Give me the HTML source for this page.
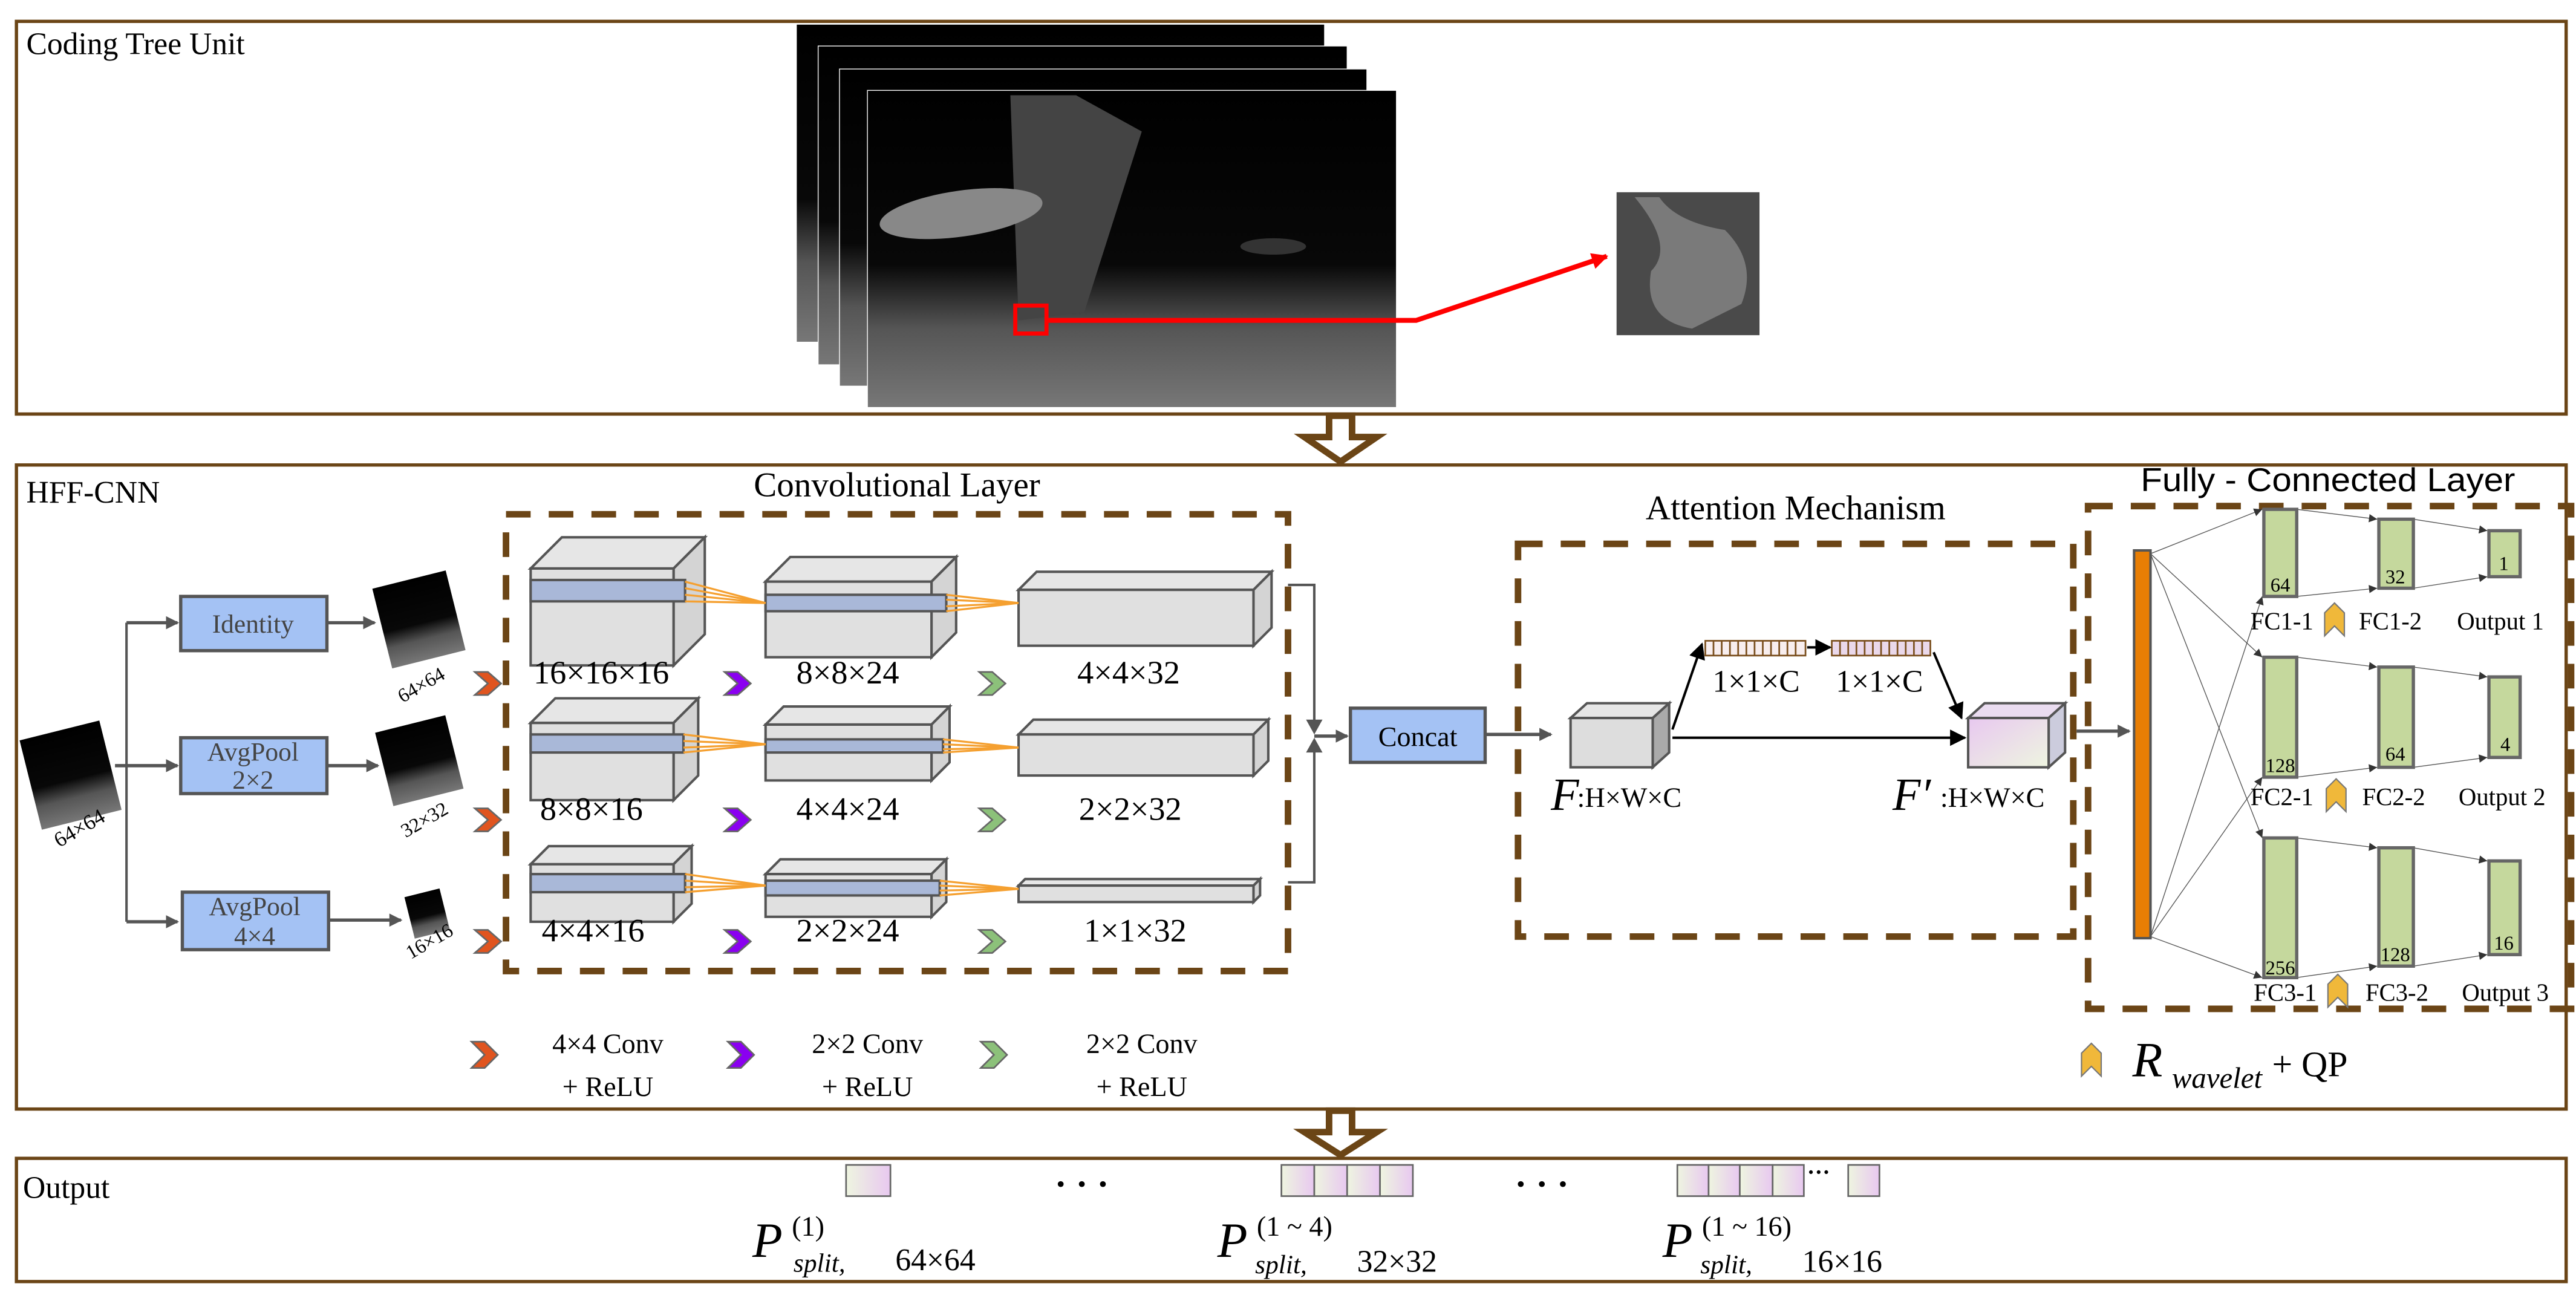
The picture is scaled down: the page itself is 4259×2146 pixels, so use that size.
<!DOCTYPE html>
<html><head><meta charset="utf-8"><style>html,body{margin:0;padding:0;background:#fff}svg{display:block}</style></head><body>
<svg width="4259" height="2146" viewBox="0 0 1568 790" preserveAspectRatio="none" xmlns="http://www.w3.org/2000/svg" font-family="Liberation Serif, serif">
<defs>
<linearGradient id="gimg" x1="0" y1="0" x2="0" y2="1"><stop offset="0" stop-color="#000"/><stop offset="0.55" stop-color="#080808"/><stop offset="0.75" stop-color="#555"/><stop offset="1" stop-color="#777"/></linearGradient>
<linearGradient id="pink" x1="0" y1="0" x2="1" y2="1"><stop offset="0" stop-color="#e8c8f0"/><stop offset="1" stop-color="#eef5e0"/></linearGradient>
<linearGradient id="cell" x1="0" y1="0" x2="1" y2="0"><stop offset="0" stop-color="#eef5e0"/><stop offset="1" stop-color="#e8c8f0"/></linearGradient>
<marker id="ah" markerWidth="8" markerHeight="8" refX="7" refY="4" orient="auto" markerUnits="userSpaceOnUse"><path d="M0,0 L8,4 L0,8 z" fill="#555"/></marker>
<marker id="ahb" markerWidth="10" markerHeight="10" refX="9" refY="5" orient="auto" markerUnits="userSpaceOnUse"><path d="M0,0 L10,5 L0,10 z" fill="#000"/></marker>
<marker id="ahs" markerWidth="5" markerHeight="5" refX="5" refY="2.5" orient="auto" markerUnits="userSpaceOnUse"><path d="M0,0 L5,2.5 L0,5 z" fill="#333"/></marker>
<marker id="ahr" markerWidth="10" markerHeight="10" refX="9" refY="5" orient="auto" markerUnits="userSpaceOnUse"><path d="M0,0 L10,5 L0,10 z" fill="#f00"/></marker>
</defs>

<!-- Panels -->
<g fill="none" stroke="#6b4516" stroke-width="2">
<rect x="10" y="13" width="1552" height="239"/>
<rect x="10" y="283" width="1552" height="392"/>
<rect x="10" y="705" width="1552" height="75"/>
</g>
<text x="16" y="33" font-size="19">Coding Tree Unit</text>
<text x="16" y="306" font-size="19">HFF-CNN</text>
<text x="14" y="729" font-size="19">Output</text>

<!-- Image stack -->
<rect x="485" y="15" width="321" height="193" fill="url(#gimg)"/>
<rect x="498" y="28" width="322" height="194" fill="url(#gimg)" stroke="#fff" stroke-width="0.5"/>
<rect x="511" y="42" width="321" height="193" fill="url(#gimg)" stroke="#fff" stroke-width="0.5"/>
<rect x="528" y="55" width="322" height="193" fill="url(#gimg)" stroke="#fff" stroke-width="0.5"/>
<polygon points="615,58 655,58 695,80 660,190 620,195" fill="#444"/>
<ellipse cx="585" cy="130" rx="50" ry="14" fill="#888" transform="rotate(-8 585 130)"/>
<ellipse cx="775" cy="150" rx="20" ry="5" fill="#333"/>
<rect x="618" y="186" width="19" height="17" fill="none" stroke="#f00" stroke-width="2.5"/>
<polyline points="637,195 862,195 978,156" fill="none" stroke="#f00" stroke-width="3" marker-end="url(#ahr)"/>
<rect x="984" y="117" width="87" height="87" fill="#4a4a4a"/>
<path d="M995,120 Q1020,150 1005,165 Q1000,195 1030,200 L1060,185 Q1070,160 1050,140 Q1020,135 1010,120 z" fill="#7a7a7a"/>

<!-- big hollow arrows -->
<g fill="#fff" stroke="#6b4516" stroke-width="4">
<path d="M809,253 L823,253 L823,266 L838,266 L816,281 L794,266 L809,266 z"/>
<path d="M809,676 L823,676 L823,689 L838,689 L816,703 L794,689 L809,689 z"/>
</g>

<!-- titles -->
<text x="546" y="302" font-size="21" text-anchor="middle">Convolutional Layer</text>
<text x="1093" y="316" font-size="21" text-anchor="middle">Attention Mechanism</text>
<text x="1417" y="299" font-size="20" text-anchor="middle" font-family="Liberation Sans, sans-serif" textLength="228" lengthAdjust="spacingAndGlyphs">Fully - Connected Layer</text>

<!-- dashed boxes -->
<g fill="none" stroke="#6b4516" stroke-width="4" stroke-dasharray="15 11">
<rect x="308" y="313" width="476" height="278"/>
<rect x="924" y="331" width="338" height="239"/>
<rect x="1271" y="308" width="294" height="306"/>
</g>

<!-- Input image -->
<g transform="rotate(-14 42 472)"><rect x="18" y="444" width="50" height="56" fill="url(#gimg)"/></g>
<text x="0" y="0" font-size="13" transform="translate(36 516) rotate(-30)">64×64</text>
<g stroke="#555" stroke-width="1.5" fill="none">
<polyline points="77,379 77,561"/>
<line x1="70" y1="466" x2="108" y2="466" stroke-width="2" marker-end="url(#ah)"/>
<line x1="77" y1="379" x2="108" y2="379" stroke-width="2" marker-end="url(#ah)"/>
<line x1="77" y1="561" x2="108" y2="561" stroke-width="2" marker-end="url(#ah)"/>
<line x1="199" y1="379" x2="228" y2="379" stroke-width="2" marker-end="url(#ah)"/>
<line x1="199" y1="466" x2="230" y2="466" stroke-width="2" marker-end="url(#ah)"/>
<line x1="200" y1="560" x2="244" y2="560" stroke-width="2" marker-end="url(#ah)"/>
</g>
<g fill="#a4c2f4" stroke="#555" stroke-width="2">
<rect x="110" y="363" width="89" height="33"/>
<rect x="110" y="449" width="89" height="34"/>
<rect x="111" y="543" width="89" height="35"/>
</g>
<g font-size="16" fill="#444" text-anchor="middle">
<text x="154" y="385">Identity</text>
<text x="154" y="463">AvgPool</text><text x="154" y="480">2×2</text>
<text x="155" y="557">AvgPool</text><text x="155" y="575">4×4</text>
</g>
<g transform="rotate(-14 255 377)"><rect x="232" y="352" width="46" height="50" fill="url(#gimg)"/></g>
<g transform="rotate(-14 255 462)"><rect x="233" y="440" width="44" height="46" fill="url(#gimg)"/></g>
<g transform="rotate(-14 260 556)"><rect x="249" y="543" width="22" height="26" fill="url(#gimg)"/></g>
<g font-size="12">
<text transform="translate(245 428) rotate(-30)">64×64</text>
<text transform="translate(247 510) rotate(-30)">32×32</text>
<text transform="translate(250 584) rotate(-30)">16×16</text>
</g>

<!-- chevrons -->
<g stroke="#666" stroke-width="1">
<polygon points="289,409 297,409 305,416 297,423 289,423 297,416" fill="#e0541f"/>
<polygon points="289,492 297,492 305,499 297,506 289,506 297,499" fill="#e0541f"/>
<polygon points="289,566 297,566 305,573 297,580 289,580 297,573" fill="#e0541f"/>
<polygon points="441,409 449,409 457,416 449,423 441,423 449,416" fill="#8a00f0"/>
<polygon points="441,492 449,492 457,499 449,506 441,506 449,499" fill="#8a00f0"/>
<polygon points="441,566 449,566 457,573 449,580 441,580 449,573" fill="#8a00f0"/>
<polygon points="596,409 604,409 612,416 604,423 596,423 604,416" fill="#8cc17a"/>
<polygon points="596,492 604,492 612,499 604,506 596,506 604,499" fill="#8cc17a"/>
<polygon points="596,566 604,566 612,573 604,580 596,580 604,573" fill="#8cc17a"/>
<polygon points="287,634 295,634 303,642 295,650 287,650 295,642" fill="#e0541f"/>
<polygon points="443,634 451,634 459,642 451,650 443,650 451,642" fill="#8a00f0"/>
<polygon points="597,634 605,634 613,642 605,650 597,650 605,642" fill="#8cc17a"/>
</g>
<g font-size="17" text-anchor="middle">
<text x="370" y="641">4×4 Conv</text><text x="370" y="667">+ ReLU</text>
<text x="528" y="641">2×2 Conv</text><text x="528" y="667">+ ReLU</text>
<text x="695" y="641">2×2 Conv</text><text x="695" y="667">+ ReLU</text>
</g>

<!-- cubes -->
<g stroke="#555" stroke-width="1.5">
<!-- row1 -->
<polygon points="323,346 342,327 429,327 410,346" fill="#e6e6e6"/><polygon points="410,346 429,327 429,386 410,405" fill="#d4d4d4"/><rect x="323" y="346" width="87" height="59" fill="#e0e0e0"/>
<rect x="323" y="353" width="94" height="13" fill="#a9b8d8"/>
<polygon points="466,354 481,339 582,339 567,354" fill="#e6e6e6"/><polygon points="567,354 582,339 582,385 567,400" fill="#d4d4d4"/><rect x="466" y="354" width="101" height="46" fill="#e0e0e0"/>
<rect x="466" y="362" width="110" height="10" fill="#a9b8d8"/>
<polygon points="620,359 631,348 774,348 763,359" fill="#e6e6e6"/><polygon points="763,359 774,348 774,382 763,393" fill="#d4d4d4"/><rect x="620" y="359" width="143" height="34" fill="#e0e0e0"/>
<!-- row2 -->
<polygon points="323,440 338,425 425,425 410,440" fill="#e6e6e6"/><polygon points="410,440 425,425 425,472 410,487" fill="#d4d4d4"/><rect x="323" y="440" width="87" height="47" fill="#e0e0e0"/>
<rect x="323" y="447" width="93" height="11" fill="#a9b8d8"/>
<polygon points="466,441 477,430 578,430 567,441" fill="#e6e6e6"/><polygon points="567,441 578,430 578,464 567,475" fill="#d4d4d4"/><rect x="466" y="441" width="101" height="34" fill="#e0e0e0"/>
<rect x="466" y="450" width="108" height="8" fill="#a9b8d8"/>
<polygon points="620,447 629,438 772,438 763,447" fill="#e6e6e6"/><polygon points="763,447 772,438 772,463 763,472" fill="#d4d4d4"/><rect x="620" y="447" width="143" height="25" fill="#e0e0e0"/>
<!-- row3 -->
<polygon points="323,526 334,515 421,515 410,526" fill="#e6e6e6"/><polygon points="410,526 421,515 421,550 410,561" fill="#d4d4d4"/><rect x="323" y="526" width="87" height="35" fill="#e0e0e0"/>
<rect x="323" y="532" width="94" height="11" fill="#a9b8d8"/>
<polygon points="466,532 475,523 576,523 567,532" fill="#e6e6e6"/><polygon points="567,532 576,523 576,549 567,558" fill="#d4d4d4"/><rect x="466" y="532" width="101" height="26" fill="#e0e0e0"/>
<rect x="466" y="536" width="106" height="9" fill="#a9b8d8"/>
<polygon points="620,539 624,535 767,535 763,539" fill="#e6e6e6"/><polygon points="763,539 767,535 767,545 763,549" fill="#d4d4d4"/><rect x="620" y="539" width="143" height="10" fill="#e0e0e0"/>
</g>
<g stroke="#f5a030" stroke-width="1.2">
<line x1="417" y1="354" x2="466" y2="367"/><line x1="417" y1="358" x2="466" y2="367"/><line x1="417" y1="362" x2="466" y2="367"/><line x1="417" y1="366" x2="466" y2="367"/>
<line x1="576" y1="362" x2="620" y2="367"/><line x1="576" y1="365" x2="620" y2="367"/><line x1="576" y1="369" x2="620" y2="367"/><line x1="576" y1="372" x2="620" y2="367"/>
<line x1="416" y1="447" x2="466" y2="453"/><line x1="416" y1="451" x2="466" y2="453"/><line x1="416" y1="455" x2="466" y2="453"/><line x1="416" y1="458" x2="466" y2="453"/>
<line x1="574" y1="450" x2="620" y2="455"/><line x1="574" y1="453" x2="620" y2="455"/><line x1="574" y1="456" x2="620" y2="455"/><line x1="574" y1="458" x2="620" y2="455"/>
<line x1="417" y1="532" x2="466" y2="539"/><line x1="417" y1="536" x2="466" y2="539"/><line x1="417" y1="540" x2="466" y2="539"/><line x1="417" y1="543" x2="466" y2="539"/>
<line x1="572" y1="536" x2="620" y2="541"/><line x1="572" y1="539" x2="620" y2="541"/><line x1="572" y1="542" x2="620" y2="541"/><line x1="572" y1="545" x2="620" y2="541"/>
</g>
<g font-size="20" text-anchor="middle">
<text x="366" y="416">16×16×16</text><text x="516" y="416">8×8×24</text><text x="687" y="416">4×4×32</text>
<text x="360" y="499">8×8×16</text><text x="516" y="499">4×4×24</text><text x="688" y="499">2×2×32</text>
<text x="361" y="573">4×4×16</text><text x="516" y="573">2×2×24</text><text x="691" y="573">1×1×32</text>
</g>
<!-- bracket -->
<g stroke="#555" stroke-width="1.5" fill="none">
<polyline points="784,356 800,356 800,441"/>
<polyline points="784,537 800,537 800,455"/>
</g>
<polygon points="795,438 805,438 800,447" fill="#555"/>
<polygon points="795,458 805,458 800,449" fill="#555"/>
<line x1="800" y1="448" x2="820" y2="448" stroke="#555" stroke-width="2" marker-end="url(#ah)"/>
<rect x="822" y="431" width="82" height="33" fill="#a4c2f4" stroke="#555" stroke-width="2"/>
<text x="863" y="454" font-size="17" text-anchor="middle">Concat</text>
<line x1="904" y1="447" x2="944" y2="447" stroke="#555" stroke-width="2" marker-end="url(#ah)"/>

<!-- Attention -->
<g stroke="#555" stroke-width="1.5">
<polygon points="956,437 966,428 1016,428 1006,437" fill="#e6e6e6"/><polygon points="1006,437 1016,428 1016,458 1006,467" fill="#aaa"/><rect x="956" y="437" width="50" height="30" fill="#ddd"/>
<polygon points="1198,437 1208,428 1257,428 1247,437" fill="#eadcf0"/><polygon points="1247,437 1257,428 1257,458 1247,467" fill="#ccd"/><rect x="1198" y="437" width="49" height="30" fill="url(#pink)"/>
</g>
<g stroke="#7a4f1e" stroke-width="1">
<rect x="1038" y="390" width="61" height="9" fill="#f8eeee"/>
<rect x="1115" y="390" width="60" height="9" fill="#ead8ea"/>
<path d="M1043,390v9M1048,390v9M1053,390v9M1058,390v9M1063,390v9M1068,390v9M1073,390v9M1078,390v9M1083,390v9M1088,390v9M1093,390v9M1120,390v9M1125,390v9M1130,390v9M1135,390v9M1140,390v9M1145,390v9M1150,390v9M1155,390v9M1160,390v9M1165,390v9M1170,390v9"/>
</g>
<g stroke="#000" stroke-width="1.5" fill="none">
<line x1="1018" y1="444" x2="1036" y2="392" marker-end="url(#ahb)"/>
<line x1="1100" y1="394" x2="1114" y2="394" marker-end="url(#ahb)"/>
<line x1="1177" y1="397" x2="1194" y2="437" marker-end="url(#ahb)"/>
<line x1="1018" y1="449" x2="1196" y2="449" marker-end="url(#ahb)"/>
</g>
<g font-size="19" text-anchor="middle"><text x="1069" y="421">1×1×C</text><text x="1144" y="421">1×1×C</text></g>
<text x="944" y="493" font-size="28" font-style="italic">F</text><text x="960" y="491" font-size="17">:H×W×C</text>
<text x="1152" y="493" font-size="28" font-style="italic">F′</text><text x="1181" y="491" font-size="17">:H×W×C</text>
<line x1="1264" y1="445" x2="1296" y2="445" stroke="#555" stroke-width="2" marker-end="url(#ah)"/>

<!-- FC -->
<rect x="1299" y="335" width="10" height="236" fill="#e87e04" stroke="#555" stroke-width="1.5"/>
<g stroke="#555" stroke-width="0.5" fill="none">
<line x1="1309" y1="337" x2="1377" y2="310" marker-end="url(#ahs)"/>
<line x1="1309" y1="337" x2="1377" y2="400" marker-end="url(#ahs)"/>
<line x1="1309" y1="337" x2="1377" y2="510" marker-end="url(#ahs)"/>
<line x1="1309" y1="570" x2="1377" y2="363" marker-end="url(#ahs)"/>
<line x1="1309" y1="570" x2="1377" y2="473" marker-end="url(#ahs)"/>
<line x1="1309" y1="570" x2="1377" y2="595" marker-end="url(#ahs)"/>
<line x1="1398" y1="310" x2="1447" y2="316" marker-end="url(#ahs)"/><line x1="1398" y1="363" x2="1447" y2="358" marker-end="url(#ahs)"/>
<line x1="1469" y1="316" x2="1514" y2="323" marker-end="url(#ahs)"/><line x1="1469" y1="358" x2="1514" y2="351" marker-end="url(#ahs)"/>
<line x1="1398" y1="400" x2="1447" y2="406" marker-end="url(#ahs)"/><line x1="1398" y1="473" x2="1447" y2="467" marker-end="url(#ahs)"/>
<line x1="1469" y1="406" x2="1514" y2="412" marker-end="url(#ahs)"/><line x1="1469" y1="467" x2="1514" y2="461" marker-end="url(#ahs)"/>
<line x1="1398" y1="510" x2="1447" y2="516" marker-end="url(#ahs)"/><line x1="1398" y1="595" x2="1447" y2="588" marker-end="url(#ahs)"/>
<line x1="1469" y1="516" x2="1514" y2="524" marker-end="url(#ahs)"/><line x1="1469" y1="588" x2="1514" y2="581" marker-end="url(#ahs)"/>
</g>
<g fill="#c5d89d" stroke="#666" stroke-width="2">
<rect x="1378" y="310" width="20" height="53"/><rect x="1448" y="316" width="21" height="42"/><rect x="1515" y="323" width="19" height="28"/>
<rect x="1378" y="400" width="20" height="73"/><rect x="1448" y="406" width="21" height="61"/><rect x="1515" y="412" width="19" height="49"/>
<rect x="1378" y="510" width="20" height="85"/><rect x="1448" y="516" width="21" height="72"/><rect x="1515" y="524" width="19" height="57"/>
</g>
<g font-size="12" text-anchor="middle">
<text x="1388" y="360">64</text><text x="1458" y="355">32</text><text x="1524" y="347">1</text>
<text x="1388" y="470">128</text><text x="1458" y="463">64</text><text x="1525" y="457">4</text>
<text x="1388" y="593">256</text><text x="1458" y="585">128</text><text x="1524" y="578">16</text>
</g>
<g font-size="15" text-anchor="middle">
<text x="1389" y="383">FC1-1</text><text x="1455" y="383">FC1-2</text><text x="1522" y="383">Output 1</text>
<text x="1389" y="490">FC2-1</text><text x="1457" y="490">FC2-2</text><text x="1523" y="490">Output 2</text>
<text x="1391" y="609">FC3-1</text><text x="1459" y="609">FC3-2</text><text x="1525" y="609">Output 3</text>
</g>
<g fill="#f0b83a" stroke="#777" stroke-width="0.8">
<polygon points="1421,367 1427,373 1427,387 1421,381 1415,387 1415,373"/>
<polygon points="1422,474 1428,480 1428,494 1422,488 1416,494 1416,480"/>
<polygon points="1423,593 1429,599 1429,613 1423,607 1417,613 1417,599"/>
<polygon points="1273,635 1279,641 1279,655 1273,649 1267,655 1267,641"/>
</g>
<text x="1298" y="655" font-size="30" font-style="italic">R</text>
<text x="1322" y="662" font-size="18" font-style="italic">wavelet</text>
<text x="1383" y="655" font-size="22">+ QP</text>

<!-- Output panel -->
<g stroke="#666" stroke-width="1">
<rect x="515" y="709" width="27" height="19" fill="url(#cell)"/>
<rect x="780" y="709" width="20" height="19" fill="url(#cell)"/><rect x="800" y="709" width="20" height="19" fill="url(#cell)"/><rect x="820" y="709" width="20" height="19" fill="url(#cell)"/><rect x="840" y="709" width="20" height="19" fill="url(#cell)"/>
<rect x="1021" y="709" width="19" height="19" fill="url(#cell)"/><rect x="1040" y="709" width="19" height="19" fill="url(#cell)"/><rect x="1059" y="709" width="20" height="19" fill="url(#cell)"/><rect x="1079" y="709" width="19" height="19" fill="url(#cell)"/>
<rect x="1125" y="709" width="19" height="19" fill="url(#cell)"/>
</g>
<g font-size="22" font-weight="bold"><text x="642" y="728">· · ·</text><text x="922" y="728">· · ·</text><text x="1100" y="718" font-size="14">···</text></g>
<g>
<text x="458" y="765" font-size="30" font-style="italic">P</text><text x="482" y="752" font-size="17">(1)</text>
<text x="483" y="774" font-size="16" font-style="italic">split,</text><text x="545" y="773" font-size="19">64×64</text>
<text x="741" y="765" font-size="30" font-style="italic">P</text><text x="765" y="752" font-size="17">(1 ~ 4)</text>
<text x="764" y="775" font-size="16" font-style="italic">split,</text><text x="826" y="774" font-size="19">32×32</text>
<text x="1012" y="765" font-size="30" font-style="italic">P</text><text x="1036" y="752" font-size="17">(1 ~ 16)</text>
<text x="1035" y="775" font-size="16" font-style="italic">split,</text><text x="1097" y="774" font-size="19">16×16</text>
</g>
</svg>
</body></html>
